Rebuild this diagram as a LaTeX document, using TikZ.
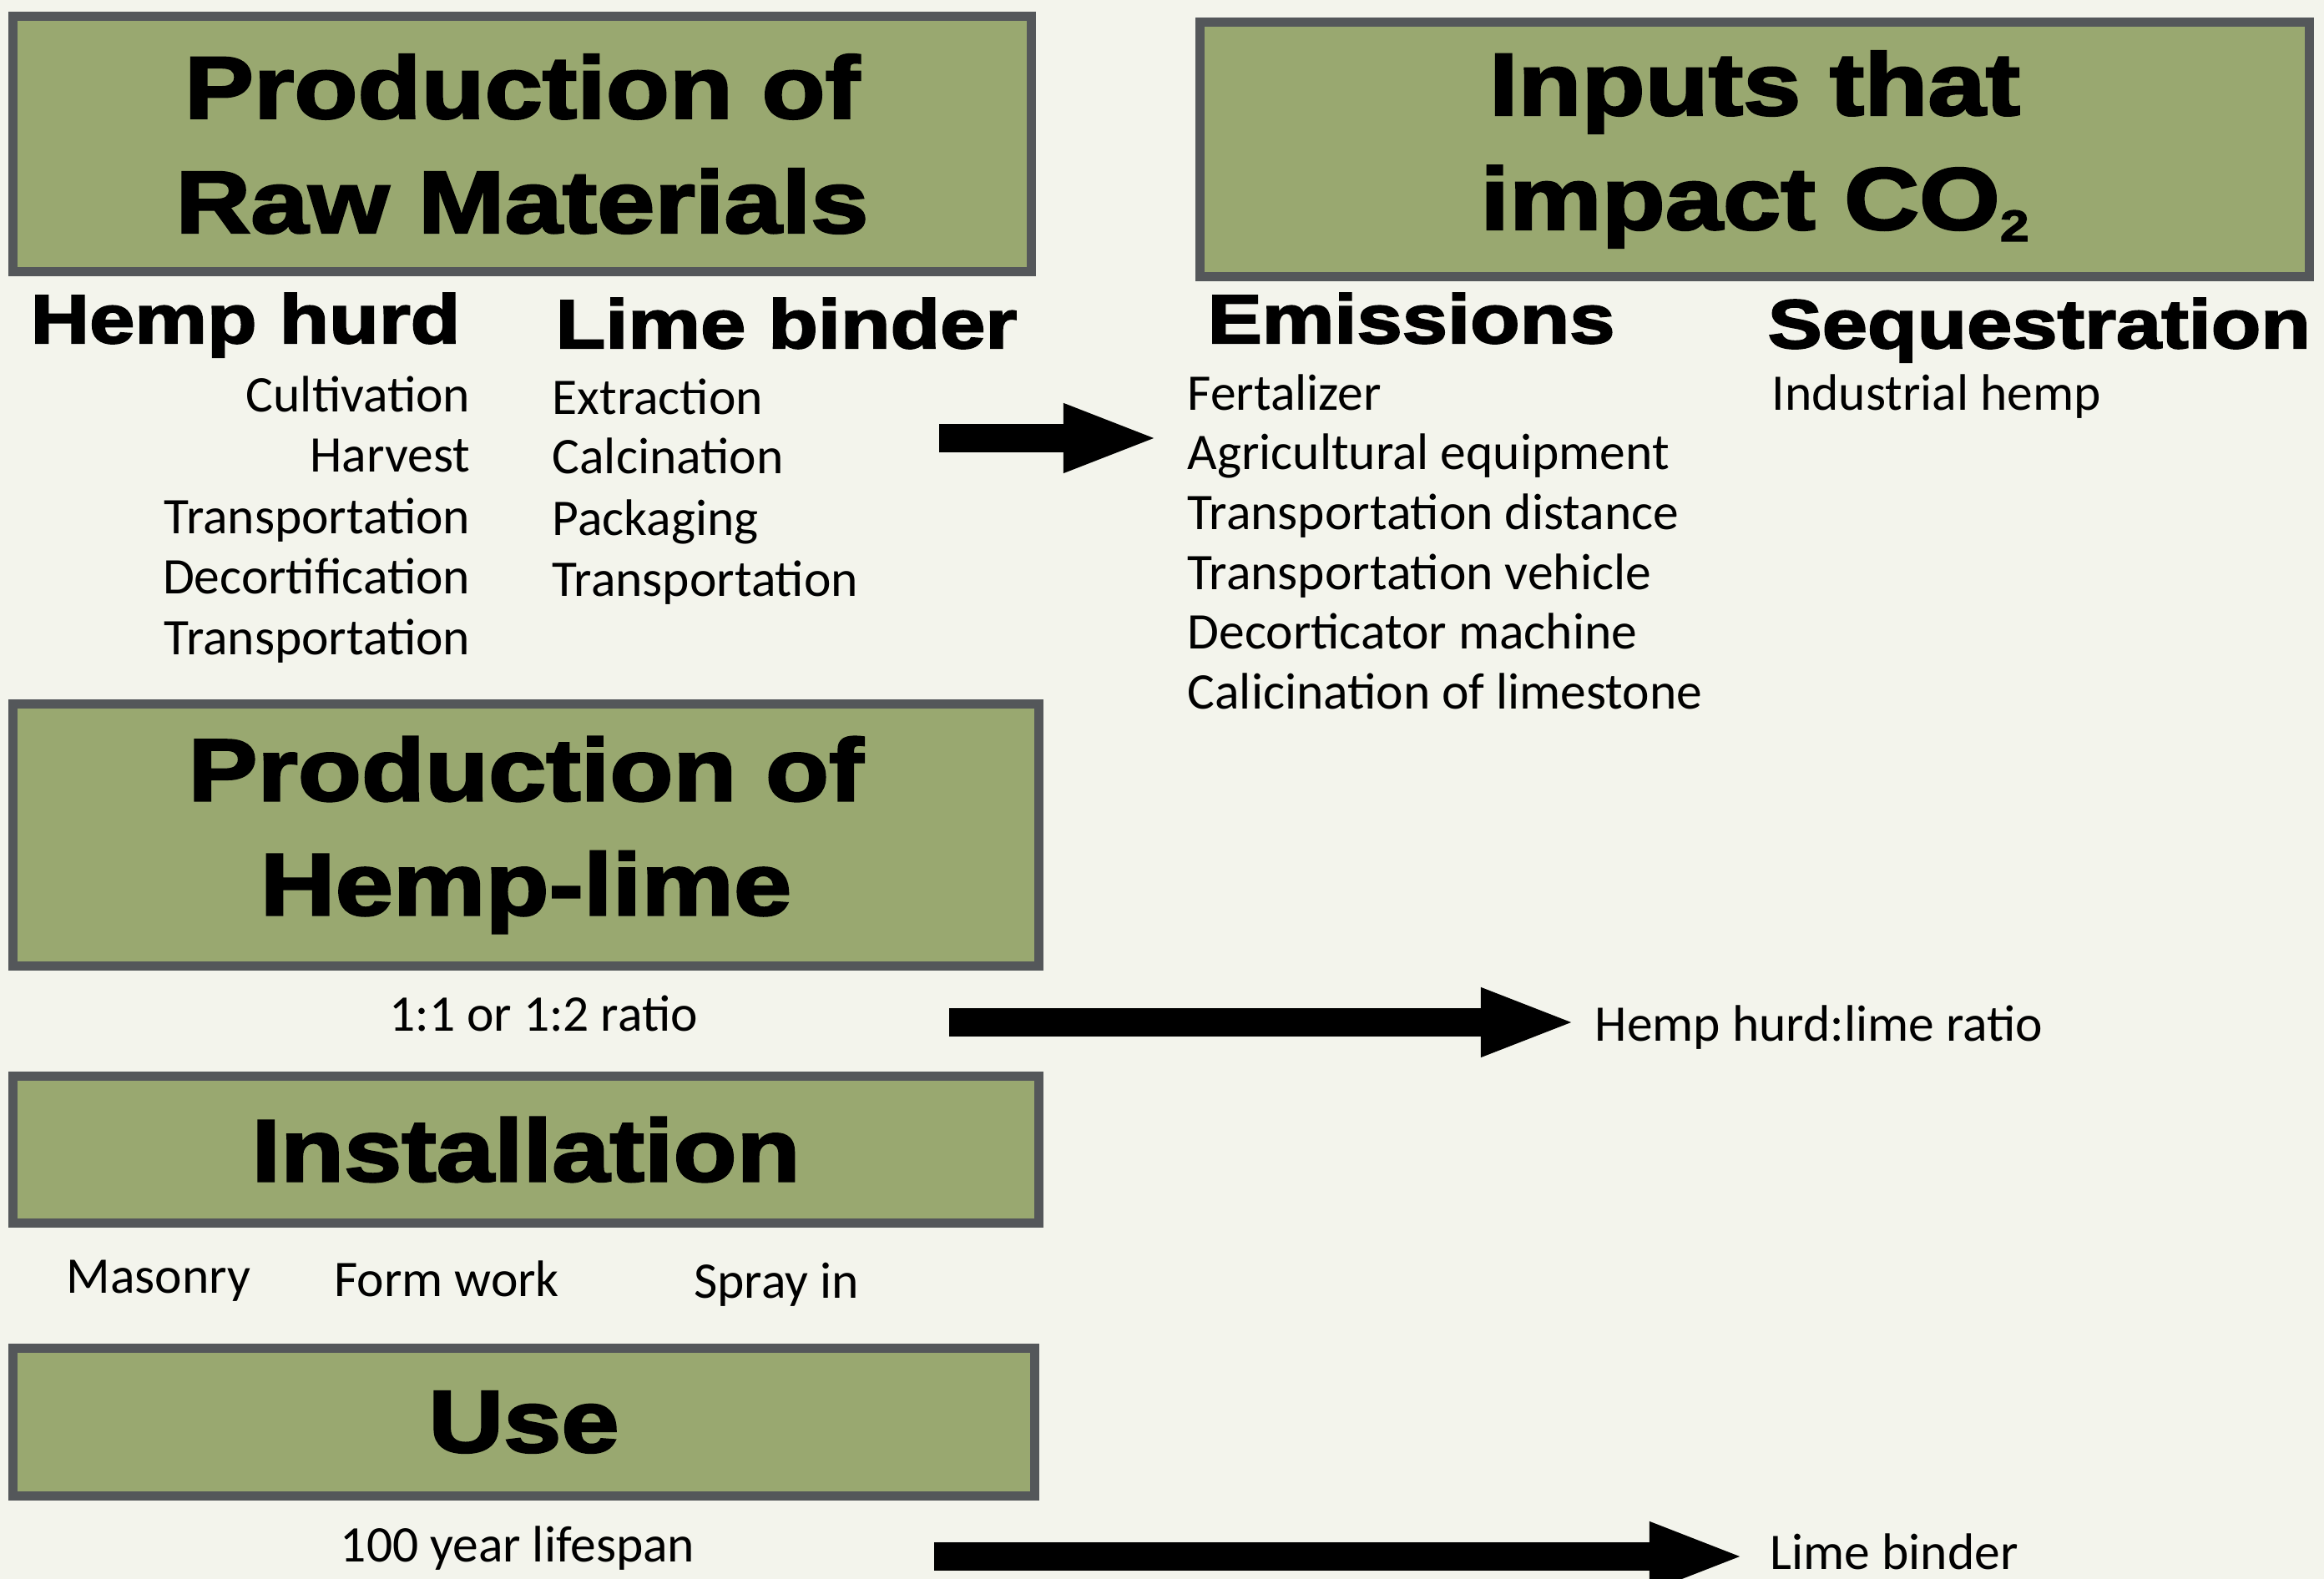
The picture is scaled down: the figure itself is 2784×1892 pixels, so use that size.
\documentclass[tikz,border=0pt]{standalone}
\usepackage{fontspec}
\usepackage{tikz}
\usetikzlibrary{arrows.meta}
\newfontfamily\titlefont{Liberation Sans}[BoldFeatures={FakeBold=2.6,FakeStretch=1.18}]
\newfontfamily\itemfont{Carlito}
\definecolor{pagebg}{HTML}{F3F4EC}
\definecolor{stagefill}{HTML}{99A870}
\definecolor{stageedge}{HTML}{54575A}
\newcommand{\lowsub}[1]{\raisebox{-4pt}{\fontsize{15}{15}\selectfont #1}}
\tikzset{
  stage/.style={draw=stageedge,fill=stagefill,line width=3.1pt,inner sep=0pt,align=center,
    font=\titlefont\bfseries\fontsize{30}{39}\selectfont},
  colhead/.style={inner sep=0pt,anchor=base west,font=\titlefont\bfseries\fontsize{23.5}{28}\selectfont},
  item/.style={inner sep=0pt,font=\itemfont\fontsize{17.5}{21}\selectfont},
  bigarrow/.style={line width=9.7pt,-{Triangle[length=33pt,width=21pt]}}
}

\begin{document}
\begin{tikzpicture}[x=0.01cm,y=-0.01cm]
\fill[pagebg] (0,0) rectangle (2784,1892);
\useasboundingbox (0,0) rectangle (2784,1892);
% stage boxes
\draw node [stage,minimum width=12.2cm,minimum height=3.06cm] (raw) at (625.5,172.5) {Production of\\Raw Materials};
\draw node [stage,minimum width=13.29cm,minimum height=3.05cm] (inputs) at (2102,179) {Inputs that\\impact CO\lowsub{2}};
\draw node [stage,minimum width=12.29cm,minimum height=3.14cm] (mix) at (630,1000.5) {Production of\\Hemp-lime};
\draw node [stage,minimum width=12.29cm,minimum height=1.76cm] (install) at (630,1377.5) {Installation};
\draw node [stage,minimum width=12.24cm,minimum height=1.77cm] (use) at (627.5,1704) {Use};
% column heads
\draw node [colhead] (hemphurd) at (36,411) {Hemp hurd};
\draw node [colhead] (limebinder) at (665,417) {Lime binder};
\draw node [colhead] (emissions) at (1446,411) {Emissions};
\draw node [colhead] (sequest) at (2117,417) {Sequestration};
% hemp hurd steps
\draw node [item,anchor=base east] (hh1) at (564,494) {Cultivation};
\draw node [item,anchor=base east] (hh2) at (564,566) {Harvest};
\draw node [item,anchor=base east] (hh3) at (564,640) {Transportation};
\draw node [item,anchor=base east] (hh4) at (564,712) {Decortification};
\draw node [item,anchor=base east] (hh5) at (564,785) {Transportation};
% lime binder steps
\draw node [item,anchor=base west] (lb1) at (661,497) {Extraction};
\draw node [item,anchor=base west] (lb2) at (661,568) {Calcination};
\draw node [item,anchor=base west] (lb3) at (661,642) {Packaging};
\draw node [item,anchor=base west] (lb4) at (661,715) {Transportation};
% emission inputs
\draw node [item,anchor=base west] (em1) at (1422,492) {Fertalizer};
\draw node [item,anchor=base west] (em2) at (1422,563) {Agricultural equipment};
\draw node [item,anchor=base west] (em3) at (1422,635) {Transportation distance};
\draw node [item,anchor=base west] (em4) at (1422,707) {Transportation vehicle};
\draw node [item,anchor=base west] (em5) at (1422,778) {Decorticator machine};
\draw node [item,anchor=base west] (em6) at (1422,850) {Calicination of limestone};
\draw node [item,anchor=base west] (sq1) at (2122,492) {Industrial hemp};
% mix, install, use notes
\draw node [item,anchor=base] (ratio) at (651,1236) {1:1 or 1:2 ratio};
\draw node [item,anchor=base west] (hlratio) at (1910,1248) {Hemp hurd:lime ratio};
\draw node [item,anchor=base] (masonry) at (190,1549) {Masonry};
\draw node [item,anchor=base] (formwork) at (535,1553) {Form work};
\draw node [item,anchor=base] (spray) at (930,1555) {Spray in};
\draw node [item,anchor=base] (life) at (620,1871) {100 year lifespan};
\draw node [item,anchor=base west] (limeuse) at (2120,1880) {Lime binder};
% arrows
\coordinate (r1s) at (1125,525);
\coordinate (r1e) at (1390,525);
\coordinate (r2s) at (1137,1225);
\coordinate (r2e) at (1890,1225);
\coordinate (r3s) at (1119,1865);
\coordinate (r3e) at (2092,1865);
\draw [bigarrow] (r1s) -- (r1e);
\draw [bigarrow] (r2s) -- (r2e);
\draw [bigarrow] (r3s) -- (r3e);
\end{tikzpicture}
\end{document}
